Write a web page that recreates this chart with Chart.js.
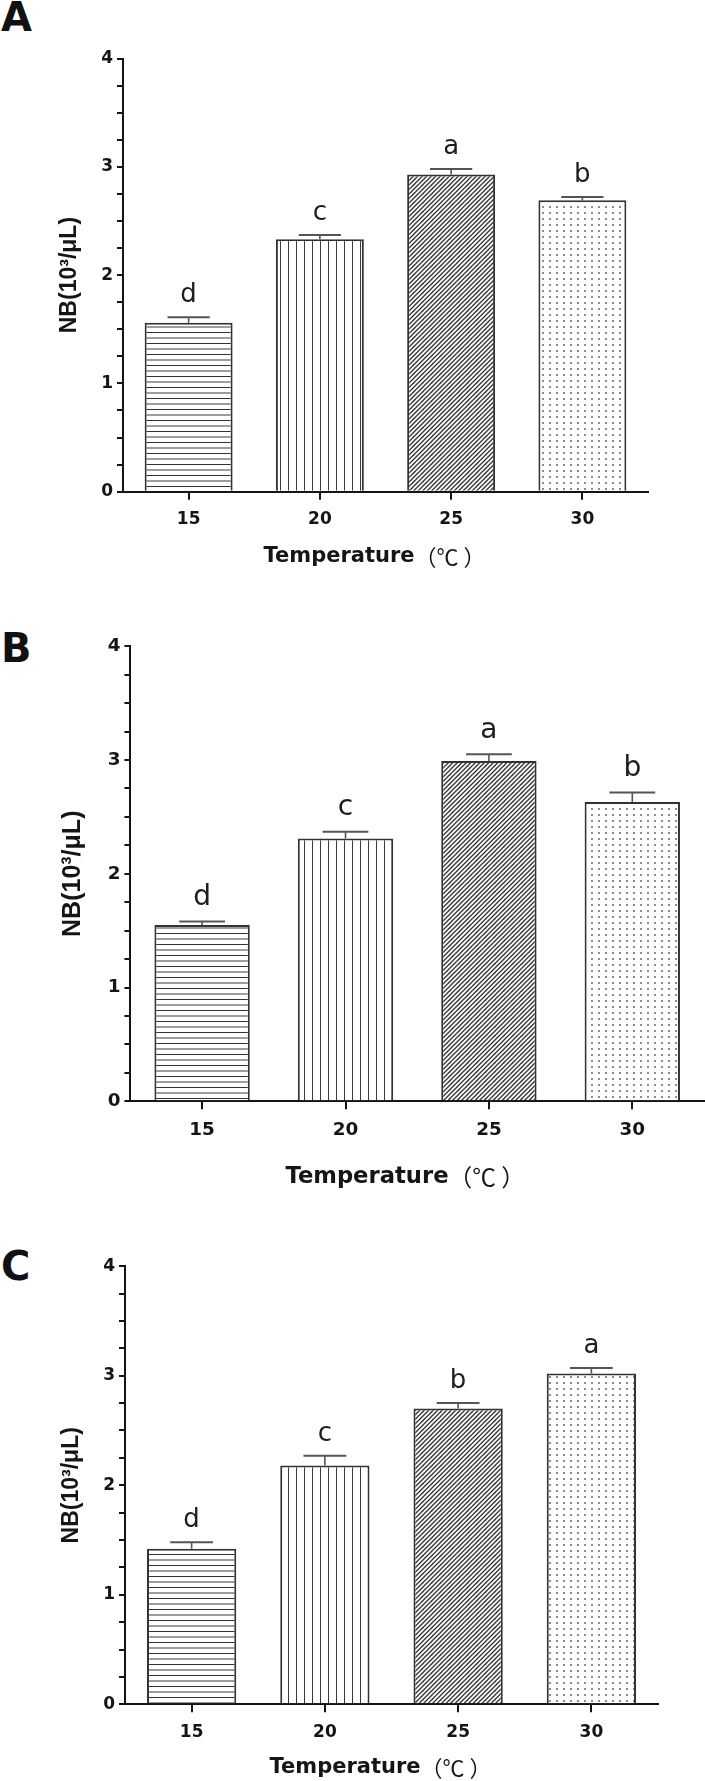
<!DOCTYPE html>
<html>
<head>
<meta charset="utf-8">
<script src="https://cdn.jsdelivr.net/npm/chart.js@4.4.1/dist/chart.umd.min.js"></script>
<style>
  html, body { margin: 0; padding: 0; background: #fff; }
  #page { position: relative; width: 705px; height: 1781px; overflow: hidden; }
  canvas { position: absolute; left: 0; }
  .tag { position: absolute; left: 1px; font: bold 40px 'DejaVu Sans', sans-serif; line-height: 40px; color: #111; }
</style>
</head>
<body>
<div id="page">
  <div class="tag" style="top:-3px">A</div>
  <div class="tag" style="top:628px">B</div>
  <div class="tag" style="top:1246px">C</div>
  <canvas id="chartA" style="top:0px"></canvas>
  <canvas id="chartB" style="top:590px"></canvas>
  <canvas id="chartC" style="top:1200px"></canvas>
</div>
<script>
// temperature groups (°C)
const categories = ['15', '20', '25', '30'];
// y axis: labelled ticks, minor marks every 0.25
const yLabelled = [0, 1, 2, 3, 4];

// panel A
const valuesA = [1.56, 2.33, 2.93, 2.69];
const errorsA = [0.05, 0.04, 0.05, 0.03];
const lettersA = ['d', 'c', 'a', 'b'];

// panel B
const valuesB = [1.55, 2.31, 2.99, 2.63];
const errorsB = [0.03, 0.06, 0.06, 0.085];
const lettersB = ['d', 'c', 'a', 'b'];

// panel C
const valuesC = [1.42, 2.18, 2.70, 3.02];
const errorsC = [0.06, 0.09, 0.05, 0.05];
const lettersC = ['d', 'c', 'b', 'a'];

const W = 705;
const INK = '#151515';

// hatch fills, one per temperature
function makePattern(kind) {
  const c = document.createElement('canvas');
  const g = c.getContext('2d');
  if (kind === 'hlines') {
    c.width = 4; c.height = 11;
    g.fillStyle = '#fff'; g.fillRect(0, 0, 4, 11);
    g.fillStyle = '#333'; g.fillRect(0, 2, 4, 1);
    g.fillStyle = 'rgba(60,60,60,0.5)'; g.fillRect(0, 7, 4, 2);
  } else if (kind === 'vlines') {
    c.width = 8; c.height = 4;
    g.fillStyle = '#fff'; g.fillRect(0, 0, 8, 4);
    g.fillStyle = '#3a3a3a'; g.fillRect(0, 0, 1, 4);
  } else if (kind === 'diag') {
    c.width = 9; c.height = 9;
    g.fillStyle = '#fff'; g.fillRect(0, 0, 9, 9);
    g.strokeStyle = '#333'; g.lineWidth = 1.3;
    for (let k = -9; k <= 27; k += 4.5) {
      g.beginPath(); g.moveTo(-3, k + 3); g.lineTo(12, k - 12); g.stroke();
    }
  } else {
    c.width = 7; c.height = 6;
    g.fillStyle = '#fff'; g.fillRect(0, 0, 7, 6);
    g.fillStyle = '#8c8c8c'; g.fillRect(3, 2, 2, 2);
  }
  return g.createPattern(c, 'repeat');
}

const fills = [makePattern('hlines'), makePattern('vlines'), makePattern('diag'), makePattern('dots')];

const panels = [
  { id: 'chartA', values: valuesA, errors: errorsA, letters: lettersA, height: 590,
    area: { left: 123, right: 648, top: 58.5, bottom: 491.7 }, k: 1, barPct: 0.67,
    titleDy: 65, yTitleX: 70, yTitleSize: 23 },
  { id: 'chartB', values: valuesB, errors: errorsB, letters: lettersB, height: 610,
    area: { left: 130.4, right: 704, top: 56.2, bottom: 511.3 }, k: 1.08, barPct: 0.665,
    titleDy: 76, yTitleX: 73, yTitleSize: 25 },
  { id: 'chartC', values: valuesC, errors: errorsC, letters: lettersC, height: 581,
    area: { left: 125, right: 658, top: 66.2, bottom: 504.3 }, k: 1, barPct: 0.67,
    titleDy: 63, yTitleX: 72, yTitleSize: 23 }
];

function annotations(p) {
  return {
    id: 'annot_' + p.id,
    afterDatasetsDraw(chart) {
      const ctx = chart.ctx;
      const y = chart.scales.y;
      const bars = chart.getDatasetMeta(0).data;
      ctx.save();
      bars.forEach((bar, i) => {
        const top = y.getPixelForValue(p.values[i] + p.errors[i]);
        const half = bar.width * 0.24;
        ctx.strokeStyle = '#555';
        ctx.lineWidth = 1.6;
        ctx.beginPath();
        ctx.moveTo(bar.x, bar.y);
        ctx.lineTo(bar.x, top);
        ctx.stroke();
        ctx.lineWidth = 2;
        ctx.beginPath();
        ctx.moveTo(bar.x - half, top);
        ctx.lineTo(bar.x + half, top);
        ctx.stroke();
        ctx.fillStyle = '#1e1e1e';
        ctx.font = `${26 * p.k}px 'DejaVu Sans', sans-serif`;
        ctx.textAlign = 'center';
        ctx.textBaseline = 'alphabetic';
        ctx.fillText(p.letters[i], bar.x, top - 15 * p.k);
      });
      ctx.restore();
    },
    afterDraw(chart) {
      // x-axis title: bold word + CJK unit in brackets
      const ctx = chart.ctx;
      const a = chart.chartArea;
      const x0 = (a.left + a.right) / 2 - 122 * p.k;
      const y0 = a.bottom + p.titleDy;
      ctx.save();
      ctx.fillStyle = INK;
      ctx.textAlign = 'left';
      ctx.textBaseline = 'middle';
      ctx.font = `bold ${21 * p.k}px 'DejaVu Sans', sans-serif`;
      ctx.fillText('Temperature', x0, y0);
      const w = ctx.measureText('Temperature').width;
      ctx.font = `${22 * p.k}px 'Noto Sans CJK SC', sans-serif`;
      ctx.fillText('（℃ ）', x0 + w, y0);
      ctx.restore();
    }
  };
}

function buildChart(p) {
  const canvas = document.getElementById(p.id);
  canvas.width = W;
  canvas.height = p.height;
  const tickFont = { family: "'DejaVu Sans', sans-serif", size: 17 * p.k, weight: 'bold' };

  return new Chart(canvas, {
    type: 'bar',
    data: {
      labels: categories,
      datasets: [{
        data: p.values,
        backgroundColor: fills,
        borderColor: '#333',
        borderWidth: 2,
        borderSkipped: 'start',
        barPercentage: p.barPct,
        categoryPercentage: 1
      }]
    },
    options: {
      responsive: false,
      animation: false,
      devicePixelRatio: 1,
      layout: { padding: { top: p.area.top, right: W - p.area.right, left: 0, bottom: 0 } },
      plugins: { legend: { display: false }, tooltip: { enabled: false } },
      scales: {
        x: {
          type: 'category',
          offset: true,
          afterFit: (s) => { s.height = p.height - p.area.bottom; },
          grid: { offset: false, drawOnChartArea: false, drawTicks: true, tickLength: 8, color: INK, lineWidth: 2 },
          border: { display: true, color: INK, width: 2 },
          ticks: { color: INK, font: tickFont, padding: 10, maxRotation: 0 }
        },
        y: {
          min: 0,
          max: 4,
          afterFit: (s) => { s.width = p.area.left; },
          grid: { drawOnChartArea: false, drawTicks: true, tickLength: 6, color: INK, lineWidth: 2 },
          border: { display: true, color: INK, width: 2 },
          ticks: {
            stepSize: 0.25,
            autoSkip: false,
            color: INK,
            font: tickFont,
            padding: 4,
            callback: (v) => (yLabelled.includes(v) ? String(v) : '')
          },
          title: {
            display: true,
            text: 'NB(10³/μL)',
            color: INK,
            font: { family: "'Liberation Sans', Arial, sans-serif", size: p.yTitleSize, weight: 'bold', lineHeight: 1.2 },
            padding: { top: p.yTitleX - p.yTitleSize * 0.6, bottom: 0 }
          }
        }
      }
    },
    plugins: [annotations(p)]
  });
}

panels.forEach(buildChart);
</script>
</body>
</html>
